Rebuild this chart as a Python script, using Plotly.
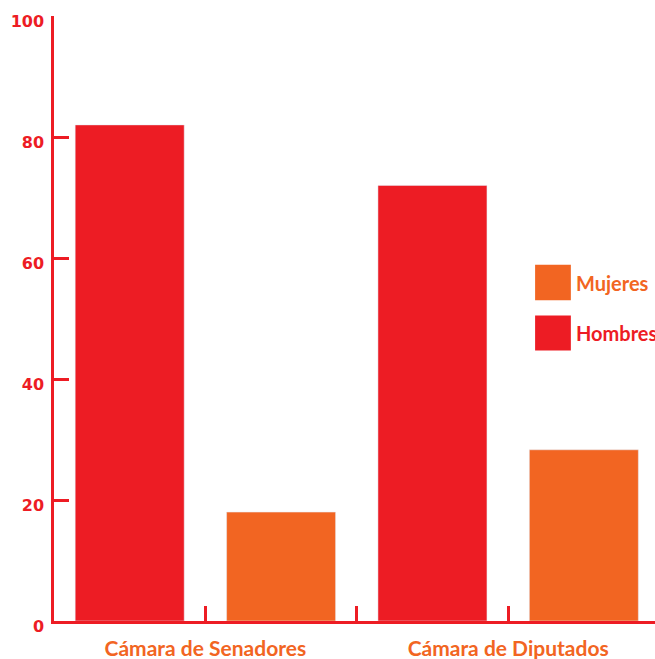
import plotly.graph_objects as go

# Porcentaje de hombres y mujeres en cada cámara
camaras = ["Cámara de Senadores", "Cámara de Diputados"]
hombres = [82, 72]
mujeres = [18, 28.3]
y_ticks = [0, 20, 40, 60, 80, 100]

ROJO = "#ED1C24"
NARANJA = "#F26522"

# each chamber takes two slots on the x axis: men first, then women
x_hombres = [2 * i for i in range(len(camaras))]
x_mujeres = [2 * i + 1 for i in range(len(camaras))]

fig = go.Figure()
fig.add_trace(go.Bar(x=x_hombres, y=hombres, name="Hombres", marker_color=ROJO,
                     width=0.72, showlegend=False))
fig.add_trace(go.Bar(x=x_mujeres, y=mujeres, name="Mujeres", marker_color=NARANJA,
                     width=0.72, showlegend=False))

# chamber labels sit between each pair of bars
tick_x = [0.5, 1.5, 2.5]
tick_text = [camaras[0], "", camaras[1]]

fig.update_layout(
    width=655, height=659,
    margin=dict(l=54, r=0, t=16, b=38, pad=0),
    paper_bgcolor="white", plot_bgcolor="white",
    barmode="overlay",
    xaxis=dict(range=[-0.5, 3.47], tickvals=tick_x, ticktext=tick_text,
               ticks="inside", ticklen=15, tickwidth=2.5, tickcolor=ROJO,
               showline=True, linewidth=2.5, linecolor=ROJO,
               showgrid=False, zeroline=False, ticklabelstandoff=7,
               tickfont=dict(family="Lato", size=21, color=NARANJA, weight="bold")),
    yaxis=dict(range=[0, 100], tickvals=y_ticks,
               ticks="inside", ticklen=15, tickwidth=2.5, tickcolor=ROJO,
               showline=True, linewidth=2.5, linecolor=ROJO,
               showgrid=False, zeroline=False, ticklabelshift=5, ticklabelstandoff=4,
               tickfont=dict(family="DejaVu Sans", size=16, color=ROJO, weight="bold")),
)

# legend drawn as large swatches with labels
legend_items = [("Mujeres", NARANJA, 0.8005, 0.860, 0.589, 0.530),
                ("Hombres", ROJO, 0.8005, 0.860, 0.505, 0.447)]
for label, color, x0, x1, y0, y1 in legend_items:
    fig.add_shape(type="rect", xref="paper", yref="paper",
                  x0=x0, x1=x1, y0=y1, y1=y0, fillcolor=color, line_width=0)
    fig.add_annotation(xref="paper", yref="paper", x=x1 + 0.006, y=(y0 + y1) / 2,
                       xanchor="left", yanchor="middle", showarrow=False, text=label,
                       font=dict(family="Lato", size=20, color=color, weight="bold"))

fig.write_html("out.html")
